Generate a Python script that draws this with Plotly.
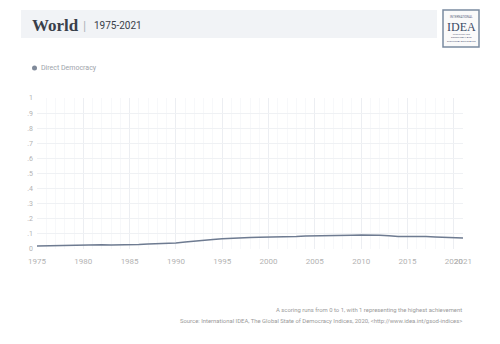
import plotly.graph_objects as go

years = list(range(1975, 2022))
direct_democracy = [0.020, 0.021, 0.023, 0.026, 0.028, 0.029, 0.029, 0.028, 0.027, 0.027,
                    0.027, 0.030, 0.033, 0.035, 0.037, 0.040, 0.046, 0.053, 0.058, 0.063,
                    0.068, 0.072, 0.075, 0.076, 0.077, 0.078, 0.078, 0.079, 0.083, 0.086,
                    0.088, 0.089, 0.090, 0.091, 0.091, 0.092, 0.093, 0.091, 0.088, 0.083,
                    0.083, 0.084, 0.082, 0.080, 0.078, 0.075, 0.073]
x_ticks = [1975, 1980, 1985, 1990, 1995, 2000, 2005, 2010, 2015, 2020, 2021]
y_ticks = [0, 0.1, 0.2, 0.3, 0.4, 0.5, 0.6, 0.7, 0.8, 0.9, 1]
y_labels = ["0", ".1", ".2", ".3", ".4", ".5", ".6", ".7", ".8", ".9", "1"]

line_color = "#6e7b91"
tick_color = "#b3b3b3"
grid_color = "#eff1f4"

fig = go.Figure()
fig.add_trace(go.Scatter(x=years, y=direct_democracy, mode="lines",
                         line=dict(color=line_color, width=1.5),
                         name="Direct Democracy", showlegend=False))

fig.update_layout(
    width=500, height=344,
    margin=dict(l=37, r=37, t=98, b=95),
    paper_bgcolor="white", plot_bgcolor="white",
    font=dict(family="Roboto", color=tick_color, size=8),
)
fig.update_xaxes(range=[1975, 2021], tickvals=x_ticks, ticktext=[str(v) for v in x_ticks],
                 tickangle=0, showgrid=True, gridcolor="#eceef2", gridwidth=1,
                 minor=dict(dtick=1, showgrid=True, gridcolor="#f7f8fa"),
                 zeroline=False, showline=False, ticks="", ticklabelstandoff=6,
                 tickfont=dict(size=8, color=tick_color), fixedrange=True)
fig.update_yaxes(range=[0, 1], tickvals=y_ticks, ticktext=y_labels,
                 showgrid=True, gridcolor=grid_color, gridwidth=1,
                 zeroline=False, showline=False, ticks="", ticklabelstandoff=3,
                 tickfont=dict(size=7, color=tick_color), fixedrange=True)

# Header band
fig.add_shape(type="rect", xref="paper", yref="paper",
              x0=(21 - 37) / 426, x1=(437 - 37) / 426,
              y0=(249 - 38) / 151, y1=(249 - 10) / 151,
              fillcolor="#f1f3f6", line=dict(width=0), layer="below")
fig.add_annotation(xref="paper", yref="paper", x=(30 - 37) / 426, y=(249 - 25) / 151,
                   text="<b>World</b>", showarrow=False, xanchor="left", yanchor="middle",
                   font=dict(family="Liberation Serif", size=17, color="#3a3f4a"))
fig.add_annotation(xref="paper", yref="paper", x=(84 - 37) / 426, y=(249 - 25) / 151,
                   text="|", showarrow=False, xanchor="center", yanchor="middle",
                   font=dict(family="Roboto", size=13, color="#b0b4bb"))
fig.add_annotation(xref="paper", yref="paper", x=(92 - 37) / 426, y=(249 - 25) / 151,
                   text="1975-2021", showarrow=False, xanchor="left", yanchor="middle",
                   font=dict(family="Roboto", size=10, color="#3a3f4a"))

# Logo
fig.add_shape(type="rect", xref="paper", yref="paper",
              x0=(443 - 37) / 426, x1=(479 - 37) / 426,
              y0=(249 - 47) / 151, y1=(249 - 10) / 151,
              fillcolor="#fafafa", line=dict(color="#7a8aa0", width=1.5))
fig.add_annotation(xref="paper", yref="paper", x=(461 - 37) / 426, y=(249 - 27) / 151,
                   text="IDEA", showarrow=False, xanchor="center", yanchor="middle",
                   font=dict(family="Liberation Serif", size=12, color="#3b4a66"))
fig.add_annotation(xref="paper", yref="paper", x=(461 - 37) / 426, y=(249 - 17) / 151,
                   text="INTERNATIONAL", showarrow=False, xanchor="center", yanchor="middle",
                   font=dict(family="Roboto", size=3, color="#5a6680"))
fig.add_annotation(xref="paper", yref="paper", x=(461 - 37) / 426, y=(249 - 38) / 151,
                   text="INSTITUTE FOR<br>DEMOCRACY AND<br>ELECTORAL ASSISTANCE",
                   showarrow=False, xanchor="center", yanchor="middle",
                   font=dict(family="Roboto", size=2.5, color="#5a6680"))

# Legend
fig.add_shape(type="circle", xref="paper", yref="paper",
              x0=(32 - 37) / 426, x1=(37 - 37) / 426,
              y0=(249 - 70.5) / 151, y1=(249 - 65.5) / 151,
              fillcolor="#808a9a", line=dict(width=0))
fig.add_annotation(xref="paper", yref="paper", x=(39 - 37) / 426, y=(249 - 68) / 151,
                   text="Direct Democracy", showarrow=False, xanchor="left", yanchor="middle",
                   font=dict(family="Roboto", size=7, color="#a0a4ab"))

# Footer
fig.add_annotation(xref="paper", yref="paper", x=(464 - 37) / 426, y=(249 - 310) / 151,
                   text="A scoring runs from 0 to 1, with 1 representing the highest achievement",
                   showarrow=False, xanchor="right", yanchor="middle",
                   font=dict(family="Roboto", size=5.9, color="#9a9a9a"))
fig.add_annotation(xref="paper", yref="paper", x=(464 - 37) / 426, y=(249 - 321) / 151,
                   text="Source: International IDEA, The Global State of Democracy Indices, 2020, &lt;http://www.idea.int/gsod-indices&gt;",
                   showarrow=False, xanchor="right", yanchor="middle",
                   font=dict(family="Roboto", size=5.9, color="#9a9a9a"))

fig.write_html("out.html", config=dict(displayModeBar=False))
